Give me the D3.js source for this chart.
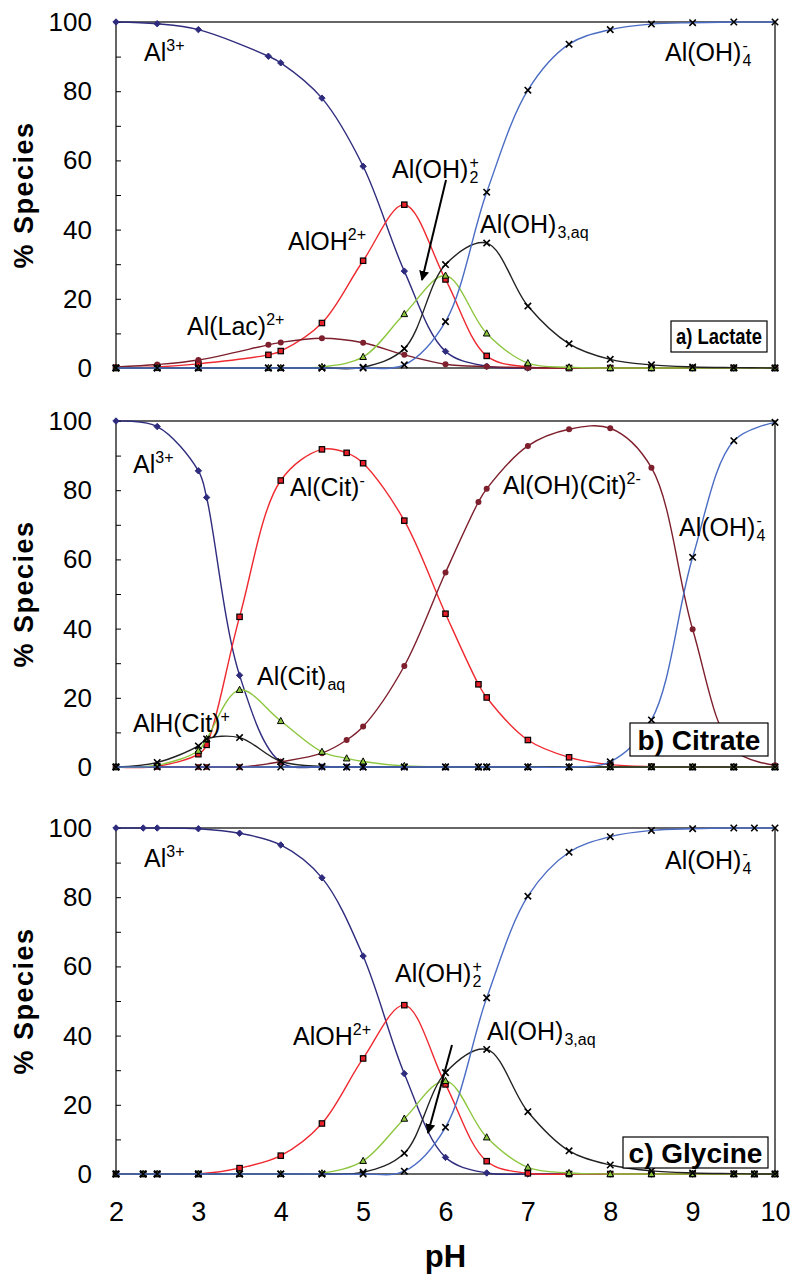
<!DOCTYPE html>
<html><head><meta charset="utf-8">
<script src="https://cdn.jsdelivr.net/npm/d3@7"></script>
<style>body{margin:0;background:#fff}svg{display:block;font-family:Arial,"Liberation Sans",sans-serif}</style>
</head><body><svg id="c" width="798" height="1275"></svg>
<script>
// ---------- data ----------
const xTicks = [2,3,4,5,6,7,8,9,10];
const yTicks = [0,20,40,60,80,100];
const yMinor = [0,10,20,30,40,50,60,70,80,90,100];

const pH_lactate = [2,2.5,3,3.85,4,4.5,5,5.5,6,6.5,7,7.5,8,8.5,9,9.5,10];
const lac_Al    = [100,99.5,97.8,90.1,88.2,78,58.3,28,4.8,0.5,0,0,0,0,0,0,0];
const lac_AlOH  = [0,0.3,1.2,3.8,4.9,13,31,47.2,25.6,3.5,0.3,0,0,0,0,0,0];
const lac_AlLac = [0.3,1.0,2.3,6.7,7.4,8.6,7.3,3.8,1.1,0.4,0.1,0,0,0,0,0,0];
const lac_AlOH2 = [0,0,0,0,0,0.3,3.2,15.6,26.7,10,1.4,0.2,0,0,0,0,0];
const lac_AlOH3 = [0,0,0,0,0,0,0.2,5.6,29.9,36.1,17.9,7,2.5,0.9,0.3,0.1,0];
const lac_AlOH4 = [0,0,0,0,0,0,0,0.9,13.4,50.8,80.3,93.6,97.8,99.4,99.8,100,100];

const pH_citrate  = [2,2.5,3,3.1,3.5,4,4.5,4.8,5,5.5,6,6.4,6.5,7,7.5,8,8.5,9,9.5,10];
const cit_Al      = [100,98.4,85.6,77.9,26.5,1.4,0,0,0,0,0,0,0,0,0,0,0,0,0,0];
const cit_AlHCit  = [0,1.3,6.1,8.1,8.5,1.6,0.2,0,0,0,0,0,0,0,0,0,0,0,0,0];
const cit_AlCitAq = [0,0.5,4.7,8.1,22.3,13.3,4.4,2.5,1.6,0.3,0,0,0,0,0,0,0,0,0,0];
const cit_AlCit   = [0,0.2,3.7,6.4,43.4,82.8,91.8,90.8,87.8,71.2,44.3,23.9,20.1,7.8,2.8,0.7,0.1,0,0,0];
const cit_AlOHCit = [0,0,0,0,0,1.5,4.0,7.8,11.7,29.2,56.2,76.6,80.4,92.8,97.6,97.9,86.5,39.8,5,0.5];
const cit_AlOH4   = [0,0,0,0,0,0,0,0,0,0,0,0,0,0,0,1.5,13.6,60.6,94.3,99.6];

const pH_glycine = [2,2.33,2.5,3,3.5,4,4.5,5,5.5,6,6.5,7,7.5,8,8.5,9,9.5,9.75,10];
const gly_Al    = [100,100,100,99.8,98.5,95.1,85.6,63,29,4.8,0.3,0,0,0,0,0,0,0,0];
const gly_AlOH  = [0,0,0,0,1.7,5.3,14.6,33.4,48.8,25.9,3.7,0.2,0,0,0,0,0,0,0];
const gly_AlOH2 = [0,0,0,0,0,0,0.2,3.8,16,26.9,10.6,1.9,0.3,0,0,0,0,0,0];
const gly_AlOH3 = [0,0,0,0,0,0,0,0.5,6,29.3,36,18,6.7,2.6,0.9,0.3,0.1,0,0];
const gly_AlOH4 = [0,0,0,0,0,0,0,0,0.8,13.5,50.9,80.3,93,97.5,99.3,99.8,100,100,100];

// ---------- styles ----------
const ST = {
  navy:  {line:'#2F2C7E', marker:'diamond',  fill:'#2F2C7E', stroke:'#2F2C7E'},
  red:   {line:'#EE2A30', marker:'square',   fill:'#E8202A', stroke:'#000'},
  maroon:{line:'#7D1F2C', marker:'circle',   fill:'#7D1F2C', stroke:'#7D1F2C'},
  green: {line:'#8CC63E', marker:'triangle', fill:'#8CC63E', stroke:'#000'},
  black: {line:'#222222', marker:'x',        fill:'none',    stroke:'#000'},
  blue:  {line:'#4A6CC3', marker:'x',        fill:'none',    stroke:'#000'}
};

const panels = [
  {top:22, pH:pH_lactate, series:[
    [lac_Al,'navy'],[lac_AlOH,'red'],[lac_AlLac,'maroon'],[lac_AlOH2,'green'],[lac_AlOH3,'black'],[lac_AlOH4,'blue']],
   box:{x:671,y:321,w:96,h:31,text:'a) Lactate',size:22,len:86},
   labels:[
     {x:144,y:61,p:[['n','Al'],['sup','3+']]},
     {x:665,y:61,p:[['n','Al(OH)'],['stack','4','-']]},
     {x:392,y:178,p:[['n','Al(OH)'],['stack','2','+']]},
     {x:288,y:250,p:[['n','AlOH'],['sup','2+']]},
     {x:480,y:233,p:[['n','Al(OH)'],['sub','3,aq']]},
     {x:187,y:335,p:[['n','Al(Lac)'],['sup','2+']]}
   ],
   arrow:[446,180,422,280]},
  {top:421, pH:pH_citrate, series:[
    [cit_Al,'navy'],[cit_AlCit,'red'],[cit_AlOHCit,'maroon'],[cit_AlCitAq,'green'],[cit_AlHCit,'black'],[cit_AlOH4,'blue']],
   box:{x:630,y:723,w:138,h:33,text:'b) Citrate',size:28},
   labels:[
     {x:133,y:473,p:[['n','Al'],['sup','3+']]},
     {x:290,y:496,p:[['n','Al(Cit)'],['sup','-']]},
     {x:503,y:494,p:[['n','Al(OH)(Cit)'],['sup','2-']]},
     {x:679,y:536,p:[['n','Al(OH)'],['stack','4','-']]},
     {x:257,y:685,p:[['n','Al(Cit)'],['sub','aq']]},
     {x:133,y:732,p:[['n','AlH(Cit)'],['sup','+']]}
   ]},
  {top:828, pH:pH_glycine, series:[
    [gly_Al,'navy'],[gly_AlOH,'red'],[gly_AlOH2,'green'],[gly_AlOH3,'black'],[gly_AlOH4,'blue']],
   box:{x:623,y:1137,w:145,h:31,text:'c) Glycine',size:28},
   labels:[
     {x:144,y:867,p:[['n','Al'],['sup','3+']]},
     {x:665,y:869,p:[['n','Al(OH)'],['stack','4','-']]},
     {x:395,y:982,p:[['n','Al(OH)'],['stack','2','+']]},
     {x:293,y:1045,p:[['n','AlOH'],['sup','2+']]},
     {x:487,y:1040,p:[['n','Al(OH)'],['sub','3,aq']]}
   ],
   arrow:[452,1045,428,1133], xlabels:true}
];

// ---------- drawing ----------
const svg = d3.select('#c');
const X0 = 116, X1 = 775, H = 346;
const x = d3.scaleLinear().domain([2,10]).range([X0,X1]);

svg.append('defs').append('marker').attr('id','ah').attr('viewBox','0 0 10 10')
  .attr('refX',9).attr('refY',5).attr('markerWidth',5).attr('markerHeight',5).attr('orient','auto')
  .append('path').attr('d','M0,0L10,5L0,10z').attr('fill','#000');

function drawMarker(g, type, cx, cy, s) {
  const r = 3.2;
  if (type==='diamond') g.append('path').attr('d',`M${cx},${cy-r}L${cx+r},${cy}L${cx},${cy+r}L${cx-r},${cy}Z`).attr('fill',s.fill).attr('stroke',s.stroke).attr('stroke-width',1);
  else if (type==='square') g.append('rect').attr('x',cx-2.7).attr('y',cy-2.7).attr('width',5.4).attr('height',5.4).attr('fill',s.fill).attr('stroke',s.stroke).attr('stroke-width',1.2);
  else if (type==='circle') g.append('circle').attr('cx',cx).attr('cy',cy).attr('r',3).attr('fill',s.fill);
  else if (type==='triangle') g.append('path').attr('d',`M${cx},${cy-3.6}L${cx+3.3},${cy+2.6}L${cx-3.3},${cy+2.6}Z`).attr('fill',s.fill).attr('stroke',s.stroke).attr('stroke-width',1);
  else if (type==='x') g.append('path').attr('d',`M${cx-3.2},${cy-3.2}L${cx+3.2},${cy+3.2}M${cx-3.2},${cy+3.2}L${cx+3.2},${cy-3.2}`).attr('stroke',s.stroke).attr('stroke-width',1.6);
}

function richText(g, x0, y0, parts, size) {
  let cx = x0;
  const subSize = size*0.64;
  parts.forEach(([k,a,b]) => {
    if (k==='n') {
      const t = g.append('text').attr('x',cx).attr('y',y0).attr('font-size',size).attr('fill','#000').text(a);
      cx += t.node().getComputedTextLength();
    } else if (k==='sup') {
      const t = g.append('text').attr('x',cx).attr('y',y0-size*0.42).attr('font-size',subSize).text(a);
      cx += t.node().getComputedTextLength();
    } else if (k==='sub') {
      const t = g.append('text').attr('x',cx+1).attr('y',y0+size*0.2).attr('font-size',subSize).text(a);
      cx += t.node().getComputedTextLength()+1;
    } else if (k==='stack') {
      const t1 = g.append('text').attr('x',cx+1).attr('y',y0+size*0.18).attr('font-size',subSize).text(a);
      const t2 = g.append('text').attr('x',cx+1).attr('y',y0-size*0.42).attr('font-size',subSize).text(b);
      cx += Math.max(t1.node().getComputedTextLength(), t2.node().getComputedTextLength())+1;
    }
  });
}

panels.forEach(P => {
  const y = d3.scaleLinear().domain([0,100]).range([P.top+H, P.top]);
  const g = svg.append('g');
  // frame
  g.append('rect').attr('x',X0).attr('y',P.top).attr('width',X1-X0).attr('height',H)
    .attr('fill','none').attr('stroke','#000').attr('stroke-width',1.2);
  // y axis
  const ax = d3.axisLeft(y).tickValues(yMinor).tickSize(-5).tickFormat('');
  const ag = g.append('g').attr('transform',`translate(${X0},0)`).call(ax);
  ag.select('.domain').remove();
  ag.selectAll('line').attr('stroke','#000');
  g.selectAll('.ylab').data(yTicks).join('text').attr('class','ylab')
    .attr('x',92).attr('y',d=>y(d)+9).attr('text-anchor','end').attr('font-size',26).text(d=>d);
  // y title
  g.append('text').attr('transform',`translate(33,${P.top+H/2}) rotate(-90)`)
    .attr('text-anchor','middle').attr('font-size',27).attr('font-weight','bold')
    .attr('letter-spacing',1.5).text('% Species');
  // series
  const line = d3.line().x((d,i)=>x(P.pH[i])).y(d=>y(d)).curve(d3.curveCatmullRom.alpha(0.5));
  P.series.forEach(([vals,key]) => {
    const s = ST[key];
    g.append('path').attr('d',line(vals)).attr('fill','none').attr('stroke',s.line).attr('stroke-width',1.4);
    const mg = g.append('g');
    vals.forEach((v,i)=>drawMarker(mg, s.marker, x(P.pH[i]), y(v), s));
  });
  // labels
  P.labels.forEach(L => richText(g, L.x, L.y, L.p, 25));
  if (P.arrow) {
    const [a,b,c,d] = P.arrow;
    g.append('line').attr('x1',a).attr('y1',b).attr('x2',c).attr('y2',d)
      .attr('stroke','#000').attr('stroke-width',2).attr('marker-end','url(#ah)');
  }
  // box
  const B = P.box;
  g.append('rect').attr('x',B.x).attr('y',B.y).attr('width',B.w).attr('height',B.h)
    .attr('fill','#fff').attr('stroke','#000').attr('stroke-width',1.2);
  const bt = g.append('text').attr('x',B.x+B.w/2).attr('y',B.y+B.h/2).attr('dy','0.36em')
    .attr('text-anchor','middle').attr('font-size',B.size).attr('font-weight','bold').text(B.text);
  if (B.len) bt.attr('textLength',B.len).attr('lengthAdjust','spacingAndGlyphs');
  // x labels
  if (P.xlabels) {
    const xg = g.append('g').attr('transform',`translate(0,${P.top+H})`)
      .call(d3.axisBottom(x).tickValues(xTicks).tickSize(0).tickPadding(28).tickFormat(d3.format('d')));
    xg.select('.domain').remove();
    xg.selectAll('text').attr('font-size',27).attr('font-family','Arial,"Liberation Sans",sans-serif').attr('fill','#000');
    g.append('text').attr('x',(X0+X1)/2).attr('y',1267).attr('text-anchor','middle')
      .attr('font-size',31).attr('font-weight','bold').text('pH');
  }
});
</script></body></html>
